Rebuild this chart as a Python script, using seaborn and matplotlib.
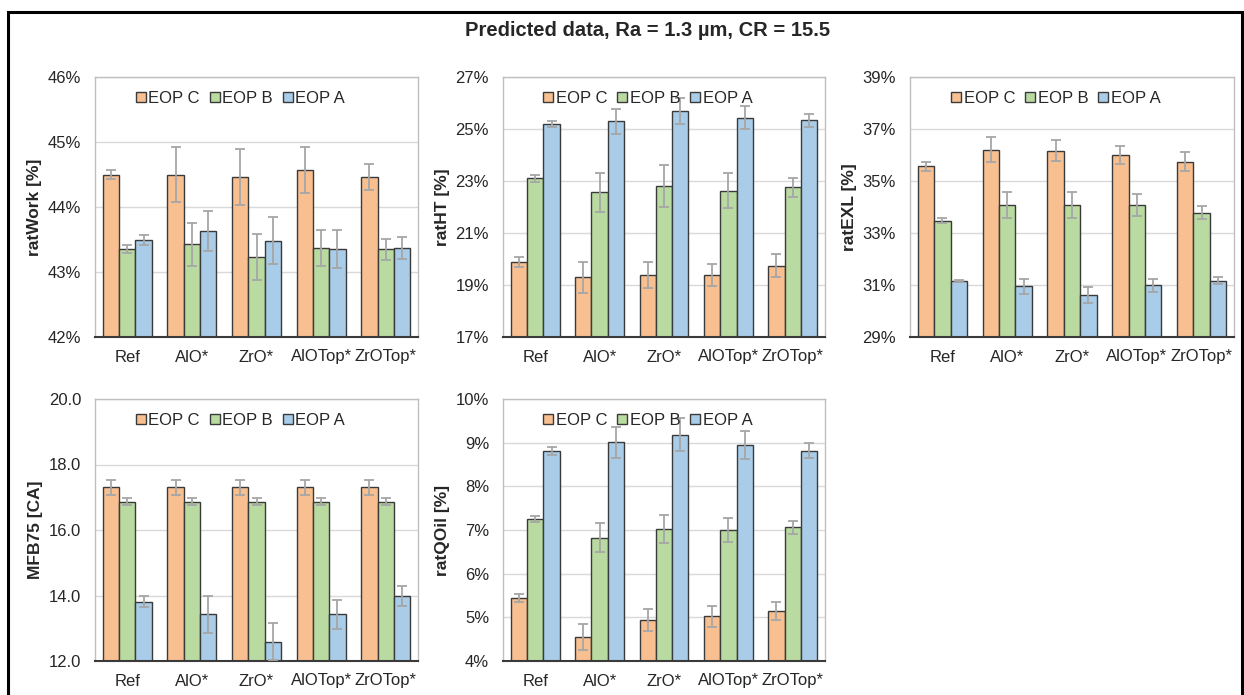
import numpy as np
import pandas as pd
import matplotlib
matplotlib.use("Agg")
import matplotlib.pyplot as plt
import seaborn as sns
from matplotlib.ticker import FuncFormatter
from matplotlib.patches import Rectangle

# ---------------- data ----------------
categories = ["Ref", "AlO*", "ZrO*", "AlOTop*", "ZrOTop*"]
series = ["EOP C", "EOP B", "EOP A"]
colors = ["#F8BF91", "#B9DAA0", "#A9CCE9"]

# ratWork [%]
work_C = [44.50, 44.50, 44.46, 44.57, 44.46]
work_B = [43.35, 43.43, 43.23, 43.37, 43.35]
work_A = [43.49, 43.63, 43.48, 43.35, 43.37]
work_C_err = [0.07, 0.42, 0.43, 0.36, 0.20]
work_B_err = [0.065, 0.33, 0.35, 0.28, 0.16]
work_A_err = [0.08, 0.31, 0.36, 0.29, 0.17]

# ratHT [%]
ht_C = [19.90, 19.30, 19.40, 19.40, 19.74]
ht_B = [23.11, 22.57, 22.81, 22.62, 22.76]
ht_A = [25.19, 25.29, 25.69, 25.43, 25.33]
ht_C_err = [0.19, 0.60, 0.50, 0.42, 0.45]
ht_B_err = [0.14, 0.75, 0.82, 0.67, 0.37]
ht_A_err = [0.12, 0.49, 0.51, 0.44, 0.26]

# ratEXL [%]
exl_C = [35.56, 36.21, 36.16, 36.00, 35.75]
exl_B = [33.47, 34.08, 34.08, 34.08, 33.77]
exl_A = [31.16, 30.95, 30.61, 31.00, 31.16]
exl_C_err = [0.17, 0.48, 0.40, 0.35, 0.35]
exl_B_err = [0.10, 0.49, 0.50, 0.42, 0.25]
exl_A_err = [0.05, 0.28, 0.30, 0.25, 0.13]

# MFB75 [CA]
mfb_C = [17.30, 17.30, 17.30, 17.30, 17.30]
mfb_B = [16.87, 16.87, 16.87, 16.87, 16.87]
mfb_A = [13.81, 13.42, 12.59, 13.42, 13.98]
mfb_C_err = [0.24, 0.24, 0.24, 0.24, 0.24]
mfb_B_err = [0.12, 0.12, 0.12, 0.12, 0.12]
mfb_A_err = [0.16, 0.56, 0.56, 0.44, 0.31]

# ratQOil [%]
qoil_C = [5.44, 4.55, 4.94, 5.03, 5.15]
qoil_B = [7.26, 6.82, 7.03, 7.00, 7.06]
qoil_A = [8.80, 9.01, 9.18, 8.95, 8.82]
qoil_C_err = [0.10, 0.29, 0.26, 0.24, 0.21]
qoil_B_err = [0.07, 0.33, 0.32, 0.27, 0.15]
qoil_A_err = [0.09, 0.36, 0.38, 0.32, 0.18]

# ---------------- style ----------------
sns.set_theme(style="white")
plt.rcParams["font.family"] = ["Liberation Sans", "DejaVu Sans"]
plt.rcParams["text.color"] = "#262626"
plt.rcParams["axes.labelcolor"] = "#262626"
plt.rcParams["xtick.color"] = "#262626"
plt.rcParams["ytick.color"] = "#262626"

W, H = 1244, 695
fig = plt.figure(figsize=(W / 100, H / 100), dpi=100)


def box(left, right, top, bottom):
    return [left / W, 1 - bottom / H, (right - left) / W, (bottom - top) / H]


pct = FuncFormatter(lambda v, p: f"{v:.0f}%")
dec = FuncFormatter(lambda v, p: f"{v:.1f}")

panels = [
    ("ratWork [%]", (work_C, work_B, work_A), (work_C_err, work_B_err, work_A_err),
     (42, 46), 1, pct, box(95, 418, 77, 337)),
    ("ratHT [%]", (ht_C, ht_B, ht_A), (ht_C_err, ht_B_err, ht_A_err),
     (17, 27), 2, pct, box(503, 825, 77, 337)),
    ("ratEXL [%]", (exl_C, exl_B, exl_A), (exl_C_err, exl_B_err, exl_A_err),
     (29, 39), 2, pct, box(910, 1234, 77, 337)),
    ("MFB75 [CA]", (mfb_C, mfb_B, mfb_A), (mfb_C_err, mfb_B_err, mfb_A_err),
     (12, 20), 2, dec, box(95, 418, 399, 661)),
    ("ratQOil [%]", (qoil_C, qoil_B, qoil_A), (qoil_C_err, qoil_B_err, qoil_A_err),
     (4, 10), 1, pct, box(503, 825, 399, 661)),
]

for ylabel, vals, errs, ylim, step, fmt, pos in panels:
    ax = fig.add_axes(pos)
    df = pd.DataFrame({
        "cat": np.tile(categories, len(series)),
        "series": np.repeat(series, len(categories)),
        "val": np.concatenate(vals),
    })
    sns.barplot(data=df, x="cat", y="val", hue="series", order=categories,
                hue_order=series, palette=colors, errorbar=None, width=0.76,
                edgecolor="#3a3a3a", linewidth=1.0, saturation=1, ax=ax, zorder=2)
    for cont, e in zip(ax.containers, errs):
        xs = [p.get_x() + p.get_width() / 2 for p in cont]
        ys = [p.get_height() for p in cont]
        ax.errorbar(xs, ys, yerr=e, fmt="none", ecolor="#A6A6A6",
                    elinewidth=1.3, capsize=3.5, capthick=1.3, zorder=3)
    ax.set_ylim(*ylim)
    ax.set_yticks(np.arange(ylim[0], ylim[1] + step / 2, step))
    ax.set_xlim(-0.5, len(categories) - 0.5)
    ax.yaxis.set_major_formatter(fmt)
    ax.yaxis.grid(True, color="#D9D9D9", lw=1.0)
    ax.set_axisbelow(True)
    for s in ["left", "right", "top"]:
        ax.spines[s].set_color("#BFBFBF")
        ax.spines[s].set_linewidth(1.0)
    ax.spines["bottom"].set_color("#3a3a3a")
    ax.spines["bottom"].set_linewidth(1.5)
    ax.tick_params(axis="both", length=0, labelsize=12)
    ax.tick_params(axis="y", pad=10)
    ax.tick_params(axis="x", pad=9)
    ax.set_xlabel("")
    ax.set_ylabel(ylabel, fontsize=12.5, fontweight="bold", labelpad=4)
    ax.legend(loc="upper center", bbox_to_anchor=(0.45, 0.985), ncol=3,
              frameon=False, fontsize=12, handlelength=0.6, handleheight=0.6,
              handletextpad=0.15, columnspacing=0.6, borderaxespad=0.2)

fig.text(648 / W, 1 - 30 / H, "Predicted data, Ra = 1.3 µm, CR = 15.5",
         ha="center", va="center", fontsize=14.5, fontweight="bold", color="#262626")

fig.patches.append(Rectangle((8 / W, -0.05), (1242 - 8) / W, 1.05 - 12 / H,
                             transform=fig.transFigure, fill=False,
                             edgecolor="black", linewidth=2.2, zorder=10))

fig.savefig("out.png", dpi=100)
